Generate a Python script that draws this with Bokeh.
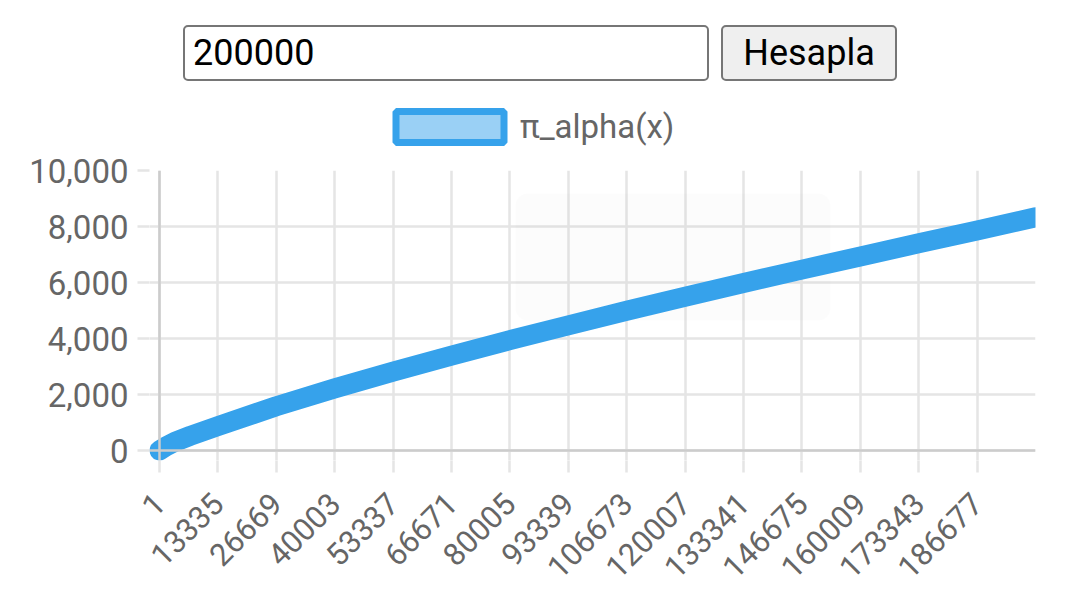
import math
from bokeh.plotting import figure
from bokeh.models import (Range1d, FixedTicker, NumeralTickFormatter, Legend,
                          LegendItem, Div, BoxAnnotation, Span)
from bokeh.layouts import column
from bokeh.embed import file_html
from bokeh.resources import INLINE

# ---- data ----
x_vals = [1, 1500, 3500, 7000, 13335, 26669, 40003, 53337, 66671, 80005,
          93339, 106673, 120007, 133341, 146675, 160009, 173343, 186677, 200000]
y_vals = [0, 150, 310, 520, 870, 1580, 2220, 2820, 3390, 3940,
          4470, 4990, 5490, 5980, 6460, 6930, 7400, 7860, 8330]
x_ticks = [1, 13335, 26669, 40003, 53337, 66671, 80005, 93339, 106673,
           120007, 133341, 146675, 160009, 173343, 186677]
x_labels = ["1", "13335", "26669", "40003", "53337", "66671", "80005", "93339",
            "106673", "120007", "133341", "146675", "160009", "173343", "186677"]
y_ticks = [0, 2000, 4000, 6000, 8000, 10000]
series_name = "π_alpha(x)"
input_value = "200000"
button_label = "Hesapla"

BLUE = "#36a2eb"
GRID = "#e5e5e5"
AXIS = "#cccccc"
TXT = "#666666"
FONT = "Roboto"

header = Div(
    text=(
        '<div style="display:flex;justify-content:center;align-items:flex-start;'
        'padding-top:25px;gap:12px;width:1080px;">'
        f'<input type="text" value="{input_value}" style="box-sizing:border-box;'
        'width:526px;height:56px;font-family:Roboto;font-size:36px;padding:0 8px;'
        'border:2px solid #767676;border-radius:5px;color:#000;background:#fff;margin:0;">'
        '<button style="box-sizing:border-box;width:176px;height:56px;font-family:Roboto;'
        'font-size:36px;border:2px solid #767676;border-radius:5px;background:#efefef;'
        f'color:#000;margin:0;padding:0;">{button_label}</button></div>'
    ),
    width=1080, height=98, margin=0,
)

# ---- legend strip (its frame is aligned with the chart frame by the column) ----
lf = figure(width=1080, height=52, x_range=Range1d(0, 1), y_range=Range1d(0, 1),
            x_axis_type=None, y_axis_type=None, output_backend="svg",
            toolbar_location=None, min_border=0, margin=0)
lf.outline_line_color = None
lf.xgrid.visible = False
lf.ygrid.visible = False
# swatch renderer: one box kept outside the strip's visible range
dummy = lf.quad(left=[5], right=[6], top=[6], bottom=[5], fill_color="#9ad0f5",
                line_color=BLUE, line_width=7)
legend = Legend(items=[LegendItem(label=series_name, renderers=[dummy])],
                location=(233, 3.6), orientation="horizontal",
                glyph_width=135, glyph_height=39, label_height=39,
                label_standoff=3, label_text_font=FONT,
                label_text_font_size="33px", label_text_color=TXT,
                border_line_color=None, background_fill_alpha=0,
                padding=0, margin=0, spacing=0)
lf.add_layout(legend)

# ---- main chart (frame extended slightly left/below the origin so the round cap shows) ----
p = figure(width=1080, height=455, x_range=Range1d(-2282, 200000),
           y_range=Range1d(-357, 10000),
           output_backend="svg", toolbar_location=None,
           min_border_left=149, min_border_right=45, min_border_top=20,
           min_border_bottom=145, margin=0)
p.outline_line_color = None
p.background_fill_color = "white"

# faint tooltip remnant
p.add_layout(BoxAnnotation(left=81277, right=153195, bottom=4643, top=9178,
                           fill_color="black", fill_alpha=0.012, line_alpha=0,
                           border_radius=12, level="underlay"))

# axis lines through the data origin
p.add_layout(Span(location=1, dimension="height", line_color=AXIS, line_width=2.5))
p.add_layout(Span(location=0, dimension="width", line_color=AXIS, line_width=2.5))

p.line(x_vals, y_vals, line_width=20, line_color=BLUE,
       line_cap="round", line_join="round")

p.xaxis.ticker = FixedTicker(ticks=x_ticks)
p.xaxis.major_label_overrides = {t: s for t, s in zip(x_ticks, x_labels)}
p.xaxis.major_label_orientation = math.pi / 4
p.yaxis.ticker = FixedTicker(ticks=y_ticks)
p.yaxis.formatter = NumeralTickFormatter(format="0,0")

for ax in (p.xaxis[0], p.yaxis[0]):
    ax.axis_line_color = None
    ax.major_tick_line_color = GRID
    ax.major_tick_line_width = 2.5
    ax.major_tick_out = 12
    ax.major_tick_in = 0
    ax.minor_tick_line_color = None
    ax.major_label_text_font = FONT
    ax.major_label_text_color = TXT
p.yaxis.major_label_text_font_size = "33px"
p.xaxis.major_label_text_font_size = "31px"
p.yaxis.major_label_standoff = 9
p.xaxis.major_label_standoff = 26

p.xgrid.grid_line_color = GRID
p.xgrid.grid_line_width = 2.5
p.ygrid.grid_line_color = GRID
p.ygrid.grid_line_width = 2.5

layout = column(header, lf, p, spacing=0)
open("out.html", "w").write(file_html(layout, INLINE))
